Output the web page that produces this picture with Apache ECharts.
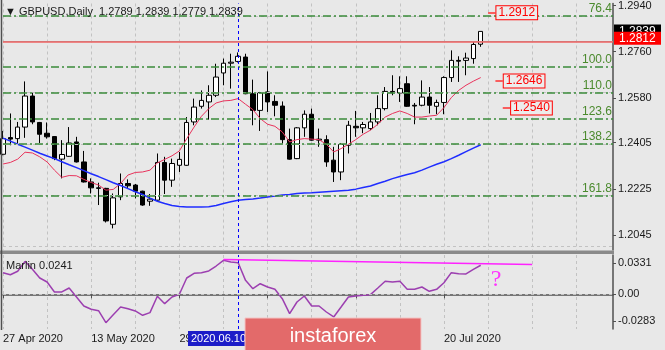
<!DOCTYPE html>
<html><head><meta charset="utf-8">
<script src="https://cdn.jsdelivr.net/npm/echarts@6/dist/echarts.min.js"></script>
<style>html,body{margin:0;padding:0;background:#e8e8e8}#c{width:665px;height:350px}</style>
</head><body><div id="c"></div>
<script>
// ---------- data ----------
const categories = [
 '2020-04-27','2020-04-28','2020-04-29','2020-04-30','2020-05-01',
 '2020-05-04','2020-05-05','2020-05-06','2020-05-07','2020-05-08',
 '2020-05-11','2020-05-12','2020-05-13','2020-05-14','2020-05-15',
 '2020-05-18','2020-05-19','2020-05-20','2020-05-21','2020-05-22',
 '2020-05-25','2020-05-26','2020-05-27','2020-05-28','2020-05-29',
 '2020-06-01','2020-06-02','2020-06-03','2020-06-04','2020-06-05',
 '2020-06-08','2020-06-09','2020-06-10','2020-06-11','2020-06-12',
 '2020-06-15','2020-06-16','2020-06-17','2020-06-18','2020-06-19',
 '2020-06-22','2020-06-23','2020-06-24','2020-06-25','2020-06-26',
 '2020-06-29','2020-06-30','2020-07-01','2020-07-02','2020-07-03',
 '2020-07-06','2020-07-07','2020-07-08','2020-07-09','2020-07-10',
 '2020-07-13','2020-07-14','2020-07-15','2020-07-16','2020-07-17',
 '2020-07-20','2020-07-21','2020-07-22','2020-07-23','2020-07-24',
 '2020-07-27','2020-07-28','2020-07-29','2020-07-30','2020-07-31',
 '2020-08-03','2020-08-04','2020-08-05','2020-08-06','2020-08-07',
 '2020-08-10','2020-08-11','2020-08-12','2020-08-13','2020-08-14',
 '2020-08-17','2020-08-18','2020-08-19','2020-08-20'
];
// [open, close, low, high]
const ohlc = [
 [1.2360,1.2421,1.2356,1.2451],[1.2425,1.2419,1.2395,1.2519],[1.2421,1.2466,1.2402,1.2486],[1.2466,1.2587,1.2424,1.2644],
 [1.2587,1.2486,1.2477,1.2600],[1.2484,1.2438,1.2404,1.2486],[1.2442,1.2428,1.2421,1.2484],[1.2429,1.2343,1.2337,1.2431],
 [1.2341,1.2359,1.2266,1.2415],[1.2352,1.2404,1.2350,1.2466],[1.2408,1.2330,1.2328,1.2428],[1.2330,1.2252,1.2250,1.2373],
 [1.2252,1.2229,1.2207,1.2266],[1.2229,1.2227,1.2162,1.2249],[1.2227,1.2100,1.2094,1.2229],[1.2087,1.2190,1.2071,1.2207],
 [1.2194,1.2246,1.2181,1.2285],[1.2246,1.2237,1.2227,1.2262],[1.2240,1.2216,1.2188,1.2244],[1.2216,1.2162,1.2159,1.2218],
 [1.2177,1.2185,1.2159,1.2205],[1.2181,1.2328,1.2179,1.2363],[1.2328,1.2259,1.2205,1.2350],[1.2259,1.2324,1.2233,1.2343],
 [1.2317,1.2340,1.2291,1.2369],[1.2317,1.2484,1.2315,1.2505],[1.2486,1.2544,1.2473,1.2577],[1.2547,1.2570,1.2538,1.2609],
 [1.2564,1.2590,1.2495,1.2629],[1.2590,1.2661,1.2583,1.2713],[1.2677,1.2715,1.2629,1.2733],[1.2715,1.2719,1.2616,1.2752],
 [1.2722,1.2742,1.2718,1.2757],[1.2739,1.2596,1.2594,1.2752],[1.2596,1.2531,1.2473,1.2651],[1.2531,1.2600,1.2451,1.2603],
 [1.2603,1.2564,1.2525,1.2683],[1.2566,1.2551,1.2508,1.2590],[1.2548,1.2417,1.2402,1.2566],[1.2417,1.2341,1.2339,1.2460],
 [1.2343,1.2463,1.2341,1.2466],[1.2463,1.2516,1.2428,1.2531],[1.2516,1.2415,1.2413,1.2538],[1.2415,1.2419,1.2389,1.2460],
 [1.2417,1.2330,1.2311,1.2434],[1.2337,1.2291,1.2252,1.2389],[1.2291,1.2398,1.2259,1.2404],[1.2395,1.2473,1.2363,1.2490],
 [1.2469,1.2463,1.2428,1.2529],[1.2463,1.2476,1.2442,1.2486],[1.2460,1.2486,1.2454,1.2521],[1.2486,1.2538,1.2473,1.2590],
 [1.2538,1.2605,1.2531,1.2622],[1.2605,1.2600,1.2590,1.2668],[1.2599,1.2616,1.2564,1.2664],[1.2635,1.2547,1.2545,1.2664],
 [1.2551,1.2548,1.2477,1.2560],[1.2551,1.2583,1.2547,1.2648],[1.2583,1.2551,1.2519,1.2622],[1.2547,1.2562,1.2516,1.2573],
 [1.2562,1.2659,1.2516,1.2664],[1.2659,1.2726,1.2642,1.2765],[1.2726,1.2723,1.2642,1.2742],[1.2726,1.2735,1.2668,1.2756],
 [1.2733,1.2788,1.2713,1.2797],[1.2789,1.2839,1.2779,1.2839]
];
const maRed = [
 1.2322,1.2328,1.2341,1.2368,1.2365,1.2350,1.2330,1.2298,1.2270,1.2277,
 1.2276,1.2262,1.2250,1.2240,1.2220,1.2223,1.2246,1.2279,1.2289,1.2291,
 1.2298,1.2326,1.2340,1.2354,1.2373,1.2421,1.2466,1.2508,1.2538,1.2560,
 1.2568,1.2570,1.2577,1.2555,1.2534,1.2499,1.2477,1.2469,1.2447,1.2408,
 1.2417,1.2421,1.2419,1.2417,1.2399,1.2369,1.2382,1.2399,1.2417,1.2438,
 1.2454,1.2477,1.2505,1.2519,1.2529,1.2519,1.2505,1.2505,1.2509,1.2512,
 1.2542,1.2581,1.2609,1.2629,1.2645,1.2659
];
const maBlue = [
 1.2423,1.2411,1.2399,1.2388,1.2376,1.2364,1.2353,1.2343,1.2331,1.2319,
 1.2308,1.2296,1.2284,1.2273,1.2261,1.2249,1.2238,1.2226,1.2214,1.2203,
 1.2189,1.2177,1.2168,1.2160,1.2156,1.2154,1.2154,1.2154,1.2155,1.2160,
 1.2168,1.2175,1.2181,1.2184,1.2186,1.2189,1.2193,1.2197,1.2201,1.2203,
 1.2207,1.2209,1.2210,1.2212,1.2214,1.2216,1.2218,1.2220,1.2224,1.2230,
 1.2236,1.2246,1.2255,1.2265,1.2273,1.2281,1.2288,1.2298,1.2310,1.2321,
 1.2331,1.2343,1.2356,1.2370,1.2384,1.2397
];
const marlin = [
 0.0231,0.0209,0.0246,0.0352,0.0267,0.0174,0.0131,0.0025,0.0025,0.0067,
 -0.0029,-0.0125,-0.0160,-0.0175,-0.0303,-0.0218,-0.0136,-0.0154,-0.0178,-0.0224,
 -0.0196,-0.0021,-0.0100,-0.0029,0.0000,0.0174,0.0224,0.0231,0.0249,0.0302,
 0.0363,0.0345,0.0337,0.0149,0.0060,0.0113,0.0078,0.0053,-0.0047,-0.0207,
 -0.0082,-0.0018,-0.0125,-0.0125,-0.0189,-0.0242,-0.0136,-0.0029,-0.0018,-0.0011,
 -0.0004,0.0067,0.0139,0.0131,0.0139,0.0053,0.0053,0.0078,0.0032,0.0053,
 0.0124,0.0231,0.0220,0.0217,0.0267,0.0310
];
const priceTicks = [1.2940, 1.2760, 1.2580, 1.2405, 1.2225, 1.2045];
const marlinTicks = [0.0331, 0, -0.0283];
const fiboLevels = [1.2912, 1.2723, 1.2646, 1.2540, 1.2425, 1.2238];
const fiboNames = ['76.4', '100.0', '110.0', '123.6', '138.2', '161.8'];
const priceTags = [1.2912, 1.2646, 1.2540];
const redLevel = 1.2812;
const crossIdx = 32;
const marlinTrend = [[30, 0.0372], [72, 0.0318]];
const marlinLabel = 'Marlin 0.0241';
const symbolName = 'GBPUSD,Daily';

// ---------- chart ----------
const FONT = '"Liberation Sans", Arial, sans-serif';
const MONTHS = ['Jan','Feb','Mar','Apr','May','Jun','Jul','Aug','Sep','Oct','Nov','Dec'];
const fmtDate = s => { const p = s.split('-'); return (+p[2]) + ' ' + MONTHS[+p[1]-1] + ' ' + p[0]; };
const GRID_DASH = {color:'#c2c2c2', type:[3,3], width:1};
const AX = '#505050';
const n = ohlc.length;
const last = ohlc[n-1];
const lblIdx = (i) => i % 12 === 0 && i < n;

const tagStart = [66, 67, 68];
const tagLines = priceTags.map((v, k) => {
  const st = {lineStyle:{color:'#ff3030', width:1.5, type:'solid'},
    label:{show:true, position:'end', formatter: v.toFixed(4), color:'#ff0000', fontSize:12, fontFamily:FONT,
      backgroundColor:'#ececec', borderColor:'#ff0000', borderWidth:1, padding:[1,2,0,2], distance:1}};
  return [Object.assign({coord:[tagStart[k], v]}, st), Object.assign({coord:[tagStart[k]+1, v]}, st)];
});

const chart = echarts.init(document.getElementById('c'));
chart.setOption({
  animation:false,
  backgroundColor:'#e8e8e8',
  textStyle:{fontFamily:FONT},
  grid:[{left:3, right:52, top:3, height:247}, {left:3, right:52, top:255, height:74}],
  xAxis:[
    {type:'category', gridIndex:0, data:categories, boundaryGap:false,
     axisLine:{show:false}, axisTick:{show:false}, axisLabel:{show:false},
     splitLine:{show:true, interval:(i)=>i%6===0, lineStyle:GRID_DASH}},
    {type:'category', gridIndex:1, data:categories, boundaryGap:false,
     axisLine:{show:true, lineStyle:{color:AX, width:1.5}},
     axisTick:{show:true, interval:lblIdx, length:4, lineStyle:{color:AX}},
     axisLabel:{show:true, interval:lblIdx, align:'left', color:'#1a1a1a', fontSize:11, margin:4, formatter:fmtDate, fontFamily:FONT},
     splitLine:{show:true, interval:(i)=>i%6===0, lineStyle:GRID_DASH}}
  ],
  yAxis:[
    {type:'value', gridIndex:0, position:'right', min:1.19867, max:1.29478,
     axisLine:{show:true, lineStyle:{color:AX, width:1.5}},
     axisTick:{show:true, customValues:priceTicks, length:3, lineStyle:{color:AX}},
     axisLabel:{show:true, customValues:priceTicks, formatter:v=>v.toFixed(4), color:'#1a1a1a', fontSize:11, margin:5, fontFamily:FONT},
     splitLine:{show:false}},
    {type:'value', gridIndex:1, position:'right', min:-0.03705, max:0.04196,
     axisLine:{show:true, lineStyle:{color:AX, width:1.5}},
     axisTick:{show:true, customValues:marlinTicks, length:3, lineStyle:{color:AX}},
     axisLabel:{show:true, customValues:marlinTicks, formatter:v=> v===0 ? '0.00' : v.toFixed(4), color:'#1a1a1a', fontSize:11, margin:5, fontFamily:FONT},
     splitLine:{show:false}}
  ],
  series:[
    {type:'line', xAxisIndex:0, yAxisIndex:0, data:[], z:1, silent:true,
     markLine:{silent:true, symbol:['none','none'], label:{show:false}, lineStyle:GRID_DASH,
       data: priceTicks.map(v=>({yAxis:v})).concat([{yAxis:last[1], lineStyle:{color:'#a0a0a0', width:1, type:'solid'}}])}},
    {type:'candlestick', xAxisIndex:0, yAxisIndex:0, data:ohlc, barWidth:5, z:3,
     itemStyle:{color:'#ffffff', color0:'#000000', borderColor:'#000000', borderColor0:'#000000', borderWidth:1},
     markLine:{silent:true, symbol:['none','none'], animation:false,
       data: [].concat(
         fiboLevels.map((v,k)=>({yAxis:v, lineStyle:{color:'#3a8a3a', width:1.5, type:[8,3,2,3]},
           label:{show:true, position:'insideEndTop', formatter:fiboNames[k], color:'#4b8a2e', fontSize:12, fontFamily:FONT, distance:[1,1]}})),
         [{yAxis:redLevel, lineStyle:{color:'#f06464', width:1.5, type:'solid'}, label:{show:false}},
          {xAxis:categories[crossIdx], lineStyle:{color:'#0000ff', width:1, type:[3,3]}, label:{show:false}}],
         tagLines)}},
    {type:'line', xAxisIndex:0, yAxisIndex:0, data:maRed, showSymbol:false, z:4, silent:true,
     lineStyle:{color:'#e8335c', width:1}},
    {type:'line', xAxisIndex:0, yAxisIndex:0, data:maBlue, showSymbol:false, z:4, silent:true,
     lineStyle:{color:'#1f2dff', width:1.5}},
    {type:'line', xAxisIndex:1, yAxisIndex:1, data:marlin, showSymbol:false, z:4, silent:true,
     lineStyle:{color:'#9c3fb0', width:1.5},
     markLine:{silent:true, symbol:['none','none'], label:{show:false},
       data:[
         {yAxis:0, lineStyle:GRID_DASH},
         {xAxis:categories[crossIdx], lineStyle:{color:'#0000ff', width:1, type:[3,3]}},
         [{coord:marlinTrend[0], lineStyle:{color:'#ff22ff', width:1.5, type:'solid'}}, {coord:marlinTrend[1], lineStyle:{color:'#ff22ff', width:1.5, type:'solid'}}]
       ]}}
  ]
});

// price boxes on the right axis, positioned through the axis scale
const yBid = chart.convertToPixel({yAxisIndex:0}, last[1]);
const yRed = chart.convertToPixel({yAxisIndex:0}, redLevel);
chart.setOption({
  graphic:[
    {type:'rect', z:50, shape:{x:0, y:250.5, width:614, height:3.5}, style:{fill:'#8a8a8a'}},
    {type:'line', z:50, shape:{x1:1.5, y1:0, x2:1.5, y2:330}, style:{stroke:'#505050', lineWidth:1.5}},
    {type:'rect', z:60, shape:{x:614, y:yBid-7, width:47, height:13}, style:{fill:'#000000'}},
    {type:'text', z:61, x:619, y:yBid, style:{text:last[1].toFixed(4), fill:'#ffffff', font:'12px ' + FONT, verticalAlign:'middle'}},
    {type:'rect', z:62, shape:{x:614, y:yRed-6.5, width:47, height:13}, style:{fill:'#ff0000'}},
    {type:'text', z:63, x:619, y:yRed, style:{text:redLevel.toFixed(4), fill:'#ffffff', font:'12px ' + FONT, verticalAlign:'middle'}},
    {type:'text', z:60, x:5, y:12, style:{text:'\u25BC ' + symbolName + '  ' + [last[0], last[3], last[2], last[1]].map(v=>v.toFixed(4)).join(' '),
      fill:'#1a1a1a', font:'11px ' + FONT, verticalAlign:'middle'}},
    {type:'text', z:60, x:6, y:266, style:{text:marlinLabel, fill:'#1a1a1a', font:'11px ' + FONT, verticalAlign:'middle'}},
    {type:'text', z:60, x:496, y:280, style:{text:'?', fill:'#ff33ff', font:'24px "Liberation Serif", "DejaVu Serif", serif', align:'center', verticalAlign:'middle'}},
    {type:'rect', z:70, shape:{x:188, y:331, width:62, height:15}, style:{fill:'#1c1cc8'}},
    {type:'text', z:71, x:191, y:338.5, style:{text:categories[crossIdx].replace(/-/g,'.'), fill:'#ffffff', font:'11px ' + FONT, verticalAlign:'middle'}},
    {type:'rect', z:80, shape:{x:245, y:318, width:176, height:34}, style:{fill:'#e36a6a', stroke:'#f4c4c4', lineWidth:1}},
    {type:'text', z:81, x:333, y:336, style:{text:'instaforex', fill:'#ffffff', font:'20px ' + FONT, align:'center', verticalAlign:'middle'}}
  ]
});
</script>
</body></html>
